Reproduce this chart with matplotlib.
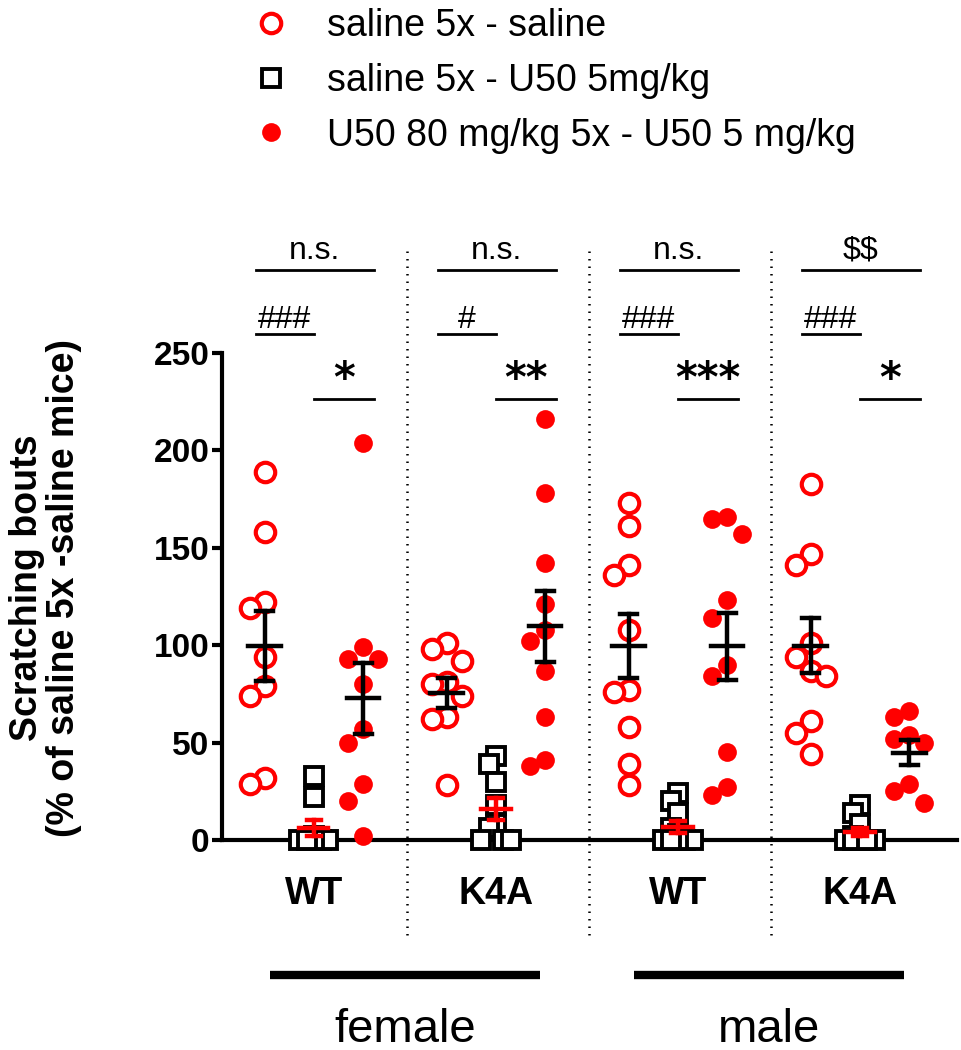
import numpy as np
import matplotlib.pyplot as plt
from matplotlib.lines import Line2D

plt.rcParams['font.family'] = ['Liberation Sans', 'DejaVu Sans']

# groups along x: female WT, female K4A, male WT, male K4A
genotypes = ['WT', 'K4A', 'WT', 'K4A']
sexes = ['female', 'male']
series_names = ['saline 5x - saline', 'saline 5x - U50 5mg/kg',
                'U50 80 mg/kg 5x - U50 5 mg/kg']

# scratching bouts, % of saline 5x - saline mice
saline_saline = [
    [189, 158, 122, 119, 94, 79, 74, 32, 29],
    [101, 98, 92, 81, 80, 74, 63, 62, 28],
    [173, 161, 141, 136, 108, 77, 76, 58, 39, 28],
    [183, 147, 141, 101, 94, 87, 84, 61, 55, 44],
]
saline_u50 = [
    [33, 22, 2, 0, 0, 0, 0, 0, 0],
    [43, 39, 30, 18, 8, 6, 0, 0, 0],
    [24, 20, 14, 6, 3, 0, 0, 0, 0, 0],
    [18, 14, 8, 2, 0, 0, 0, 0, 0, 0],
]
u50_u50 = [
    [204, 99, 93, 93, 80, 57, 50, 29, 20, 2],
    [216, 178, 142, 121, 108, 102, 87, 63, 41, 38],
    [166, 165, 157, 123, 114, 90, 84, 45, 27, 23],
    [66, 63, 54, 52, 50, 29, 25, 19],
]

sig_top = ['n.s.', 'n.s.', 'n.s.', r'\$\$']
sig_left = ['###', '#', '###', '###']
sig_right = ['*', '**', '***', '*']


def swarm(values, step, thr):
    # simple column packing like GraphPad scatter plots
    values = np.asarray(values, dtype=float)
    order = np.argsort(-values, kind='stable')
    cand = [0, -1, 1, -2, 2]
    placed = []
    offs = np.zeros(len(values))
    for i in order:
        v = values[i]
        counts = [sum(1 for pv, pk in placed if pk == k and abs(v - pv) < thr) for k in cand]
        k = cand[int(np.argmin(counts))]
        placed.append((v, k))
        offs[i] = k * step
    return offs


def mean_sem(ax, x, vals, color, half, cap):
    vals = np.asarray(vals, dtype=float)
    m = vals.mean()
    se = vals.std(ddof=1) / np.sqrt(len(vals))
    kw = dict(color=color, lw=3.2, zorder=6, clip_on=False)
    ax.plot([x - half, x + half], [m, m], **kw)
    ax.plot([x, x], [m - se, m + se], **kw)
    ax.plot([x - cap, x + cap], [m + se, m + se], **kw)
    ax.plot([x - cap, x + cap], [m - se, m - se], **kw)


fig = plt.figure(figsize=(9.62, 10.5), dpi=100)
ax = fig.add_axes([222 / 962, 0.2, 735 / 962, 487 / 1050])

centers = np.arange(len(genotypes))
shift = 0.27
red = '#ff0000'

open_kw = dict(ls='none', marker='o', ms=14, mfc='white', mec=red, mew=3)
sq_kw = dict(ls='none', marker='s', ms=13, mfc='white', mec='black', mew=2.8)
fill_kw = dict(ls='none', marker='o', ms=13.5, mfc=red, mec=red, mew=0)

for g, c in enumerate(centers):
    v1, v2, v3 = saline_saline[g], saline_u50[g], u50_u50[g]
    ax.plot(c + 0 + swarm(v2, 0.04, 9), v2, zorder=3, clip_on=False, **sq_kw)
    ax.plot(c - shift + swarm(v1, 0.083, 10.5), v1, zorder=4, clip_on=False, **open_kw)
    ax.plot(c + shift + swarm(v3, 0.083, 10.5), v3, zorder=4, clip_on=False, **fill_kw)
    mean_sem(ax, c - shift, v1, 'black', 0.09, 0.047)
    mean_sem(ax, c, v2, red, 0.08, 0.04)
    mean_sem(ax, c + shift, v3, 'black', 0.09, 0.047)

    # significance bars
    lk = dict(color='black', lw=2, clip_on=False)
    ax.plot([c - shift - 0.05, c + shift + 0.06], [292.6, 292.6], **lk)
    ax.plot([c - shift - 0.05, c], [259.8, 259.8], **lk)
    ax.plot([c, c + shift + 0.06], [226.4, 226.4], **lk)
    ax.text(c + 0.005, 298.5, sig_top[g], ha='center', va='baseline', fontsize=23)
    ax.text((c - shift - 0.05 + c) / 2, 263, sig_left[g], ha='center', va='baseline', fontsize=23)
    ax.text((c + c + shift + 0.06) / 2, 236, sig_right[g], ha='center', va='center',
            fontsize=30, fontweight='bold', family=['DejaVu Sans'])

# dotted dividers between groups
for d in centers[:-1] + 0.5:
    ax.plot([d + 0.01, d + 0.01], [-49, 305], color='black', lw=1.8,
            ls=(0, (0.6, 2.4)), clip_on=False, zorder=1)

ax.set_xlim(-0.505, 3.533)
ax.set_ylim(0, 250)
ax.set_yticks([0, 50, 100, 150, 200, 250])
ax.tick_params(axis='y', labelsize=24, width=3, length=7, pad=2)
for lab in ax.get_yticklabels():
    lab.set_fontweight('bold')
ax.set_xticks(centers, genotypes, fontsize=27, fontweight='bold')
ax.tick_params(axis='x', length=0, pad=26)
for s in ['top', 'right']:
    ax.spines[s].set_visible(False)
ax.spines['left'].set_linewidth(3)
ax.spines['bottom'].set_linewidth(3)
ax.patch.set_visible(False)

# sex bars and labels
tr = ax.get_xaxis_transform()
for i, sx in enumerate(sexes):
    mid = centers[2 * i] + 0.5
    ax.plot([mid - 0.742, mid + 0.742], [-0.277, -0.277], color='black', lw=6,
            solid_capstyle='butt', transform=tr, clip_on=False)
    ax.text(mid, -0.415, sx, ha='center', va='baseline', fontsize=34, transform=tr)

fig.text(0.047, 0.44, 'Scratching bouts\n(% of saline 5x -saline mice)', rotation=90,
         ha='center', va='center', fontsize=27, fontweight='bold', linespacing=1.05,
         multialignment='center')

handles = [Line2D([], [], **open_kw), Line2D([], [], **sq_kw), Line2D([], [], **fill_kw)]
fig.legend(handles, series_names, loc='upper left', bbox_to_anchor=(252 / 962, 1 - 8 / 1050),
           frameon=False, fontsize=27, handlelength=1.0, handletextpad=1.0,
           labelspacing=0.5, borderpad=0, borderaxespad=0)

fig.savefig('out.png', dpi=100)
